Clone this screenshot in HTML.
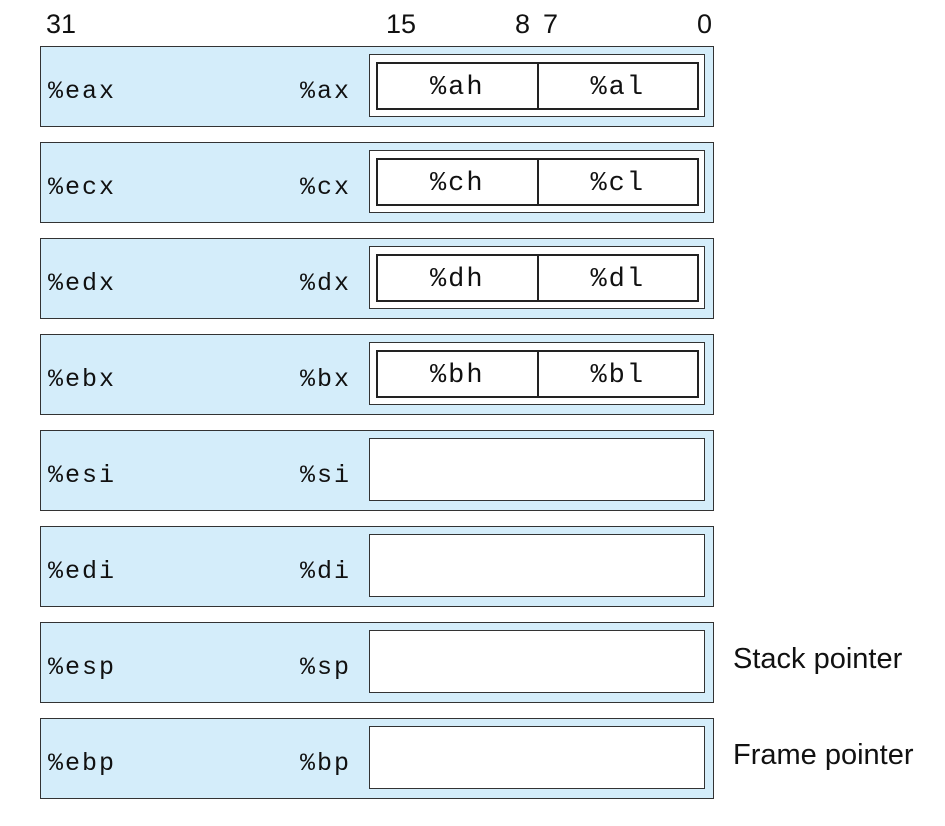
<!DOCTYPE html>
<html><head><meta charset="utf-8"><style>
body{margin:0;width:945px;height:826px;background:#fff;position:relative;font-family:"Liberation Sans",sans-serif;overflow:hidden}
.h{position:absolute;top:8px;font-size:27px;line-height:32px;color:#111}
.reg{position:absolute;left:40px;width:672px;height:79px;background:#d4edfa;border:1.5px solid #333}
.lbl{position:absolute;top:30px;font-family:"Liberation Mono",monospace;font-size:25px;letter-spacing:2px;color:#111;line-height:30px}
.w{position:absolute;left:328px;top:7px;width:336px;height:63px;background:#fff;border:1.5px solid #333;box-sizing:border-box}
.in{position:absolute;left:6px;top:7px;width:323px;height:48px;border:2.5px solid #222;box-sizing:border-box;display:flex}
.in div{flex:1;text-align:center;line-height:48px;font-family:"Liberation Mono",monospace;font-size:27px;letter-spacing:2px;color:#111}
.in div:first-child{border-right:2px solid #222}
.side{position:absolute;left:733px;font-size:29px;color:#111}
</style></head><body>
<div class="h" style="left:46px">31</div>
<div class="h" style="left:386px">15</div>
<div class="h" style="left:515px">8</div>
<div class="h" style="left:543px">7</div>
<div class="h" style="left:697px">0</div>
<div id="regs"></div>
<div class="side" style="top:643px">Stack pointer</div>
<div class="side" style="top:739px">Frame pointer</div>
<script>
const r32=["%eax","%ecx","%edx","%ebx","%esi","%edi","%esp","%ebp"];
const r16=["%ax","%cx","%dx","%bx","%si","%di","%sp","%bp"];
const r8h=["%ah","%ch","%dh","%bh","","","",""];
const r8l=["%al","%cl","%dl","%bl","","","",""];
const c=document.getElementById('regs');
r32.forEach((n,i)=>{
  const d=document.createElement('div');d.className='reg';d.style.top=(46+i*96)+'px';
  
  
  let h='<span class="lbl" style="left:7px">'+n+'</span><span class="lbl" style="right:362px">'+r16[i]+'</span><div class="w">';
  if(r8h[i]) h+='<div class="in"><div>'+r8h[i]+'</div><div>'+r8l[i]+'</div></div>';
  h+='</div>';
  d.innerHTML=h;c.appendChild(d);
});
</script>
</body></html>
